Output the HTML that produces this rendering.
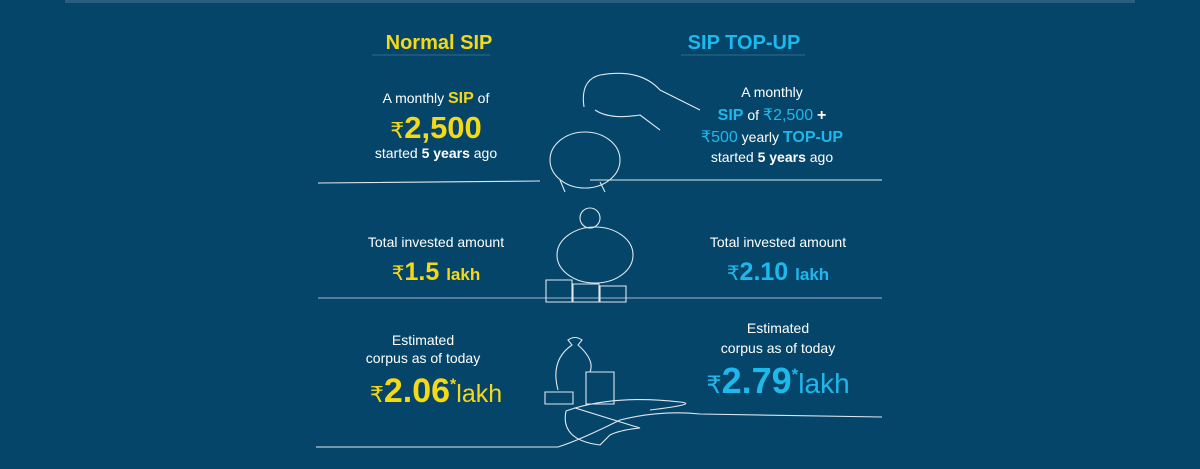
<!DOCTYPE html>
<html><head><meta charset="utf-8"><style>
body{margin:0;width:1200px;height:469px;background:#05456a;overflow:hidden;position:relative;font-family:"Liberation Sans",sans-serif;color:#fff}
.t{position:absolute;text-align:center;white-space:nowrap;transform:translateX(-50%)}
.y{color:#f6d916}.c{color:#1db9ec}b{font-weight:bold}
</style></head><body>
<div style="position:absolute;left:65px;top:0;width:1070px;height:3px;background:#2a5f82"></div>
<svg width="1200" height="469" style="position:absolute;left:0;top:0" fill="none" stroke="#dfe8ee" stroke-width="1.1">
<line x1="372" y1="55" x2="490" y2="55" stroke="#2f6b8e"/>
<line x1="681" y1="55" x2="805" y2="55" stroke="#2f6b8e"/>
<path d="M318 183 L540 181 M590 180 L882 180"/>
<line x1="318" y1="298" x2="882" y2="298" stroke="#9fb8c8"/>
<path d="M316 447 L558 447 Q580 440 620 420 Q660 410 700 414 L882 417"/>
<path d="M566 411 Q560 440 600 445 L610 435 Q620 430 640 428 L575 408 Z"/>
<path d="M575 408 Q620 395 680 402 Q700 404 650 410"/>
<path d="M584 107 Q580 80 600 75 Q640 68 660 90 L700 110 M595 110 Q610 120 640 115 L660 130"/>
<ellipse cx="585" cy="160" rx="35" ry="28"/><path d="M560 180 L565 192 M600 182 L605 192"/>
<ellipse cx="595" cy="255" rx="38" ry="28"/><circle cx="590" cy="218" r="10"/>
<path d="M546 280 h26 v22 h-26z M573 284 h26 v18 h-26z M600 286 h26 v16 h-26z"/>
<path d="M545 392 h28 v12 h-28z M586 372 h28 v32 h-28z"/>
<path d="M558 390 Q550 360 572 345 L568 340 Q575 335 582 340 L578 345 Q595 360 590 372"/>
</svg>
<div class="t y" style="left:439px;top:32px;font-size:20px;font-weight:bold">Normal SIP</div>
<div class="t c" style="left:744px;top:32px;font-size:20px;font-weight:bold">SIP TOP-UP</div>
<div class="t" style="left:436px;top:90px;font-size:14px">A monthly <b class="y" style="font-size:16px">SIP</b> of</div>
<div class="t y" style="left:436px;top:110px;font-size:31px;font-weight:bold"><span style="font-size:22px;font-weight:normal">₹</span>2,500</div>
<div class="t" style="left:436px;top:145px;font-size:14px">started <b>5 years</b> ago</div>
<div class="t" style="left:772px;top:84px;font-size:14px">A monthly</div>
<div class="t" style="left:772px;top:105px;font-size:14px"><b class="c" style="font-size:16px">SIP</b> of <span class="c" style="font-size:16px">₹2,500</span> <b style="font-size:16px">+</b></div>
<div class="t" style="left:772px;top:127px;font-size:14px"><span class="c" style="font-size:16px">₹500</span> yearly <b class="c" style="font-size:16px">TOP-UP</b></div>
<div class="t" style="left:772px;top:149px;font-size:14px">started <b>5 years</b> ago</div>
<div class="t" style="left:436px;top:234px;font-size:14px">Total invested amount</div>
<div class="t y" style="left:436px;top:258px;font-size:25px;font-weight:bold"><span style="font-size:20px;font-weight:normal">₹</span>1.5 <span style="font-size:17px">lakh</span></div>
<div class="t" style="left:778px;top:234px;font-size:14px">Total invested amount</div>
<div class="t c" style="left:778px;top:258px;font-size:25px;font-weight:bold"><span style="font-size:20px;font-weight:normal">₹</span>2.10 <span style="font-size:17px">lakh</span></div>
<div class="t" style="left:423px;top:332px;font-size:14px">Estimated</div>
<div class="t" style="left:423px;top:350px;font-size:14px">corpus as of today</div>
<div class="t y" style="left:436px;top:372px;font-size:34px;font-weight:bold"><span style="font-size:22px;font-weight:normal">₹</span>2.06<sup style="font-size:16px">*</sup><span style="font-size:25px;font-weight:normal">lakh</span></div>
<div class="t" style="left:778px;top:320px;font-size:14px">Estimated</div>
<div class="t" style="left:778px;top:340px;font-size:14px">corpus as of today</div>
<div class="t c" style="left:778px;top:360px;font-size:36px;font-weight:bold"><span style="font-size:24px;font-weight:normal">₹</span>2.79<sup style="font-size:17px">*</sup><span style="font-size:28px;font-weight:normal">lakh</span></div>
</body></html>
